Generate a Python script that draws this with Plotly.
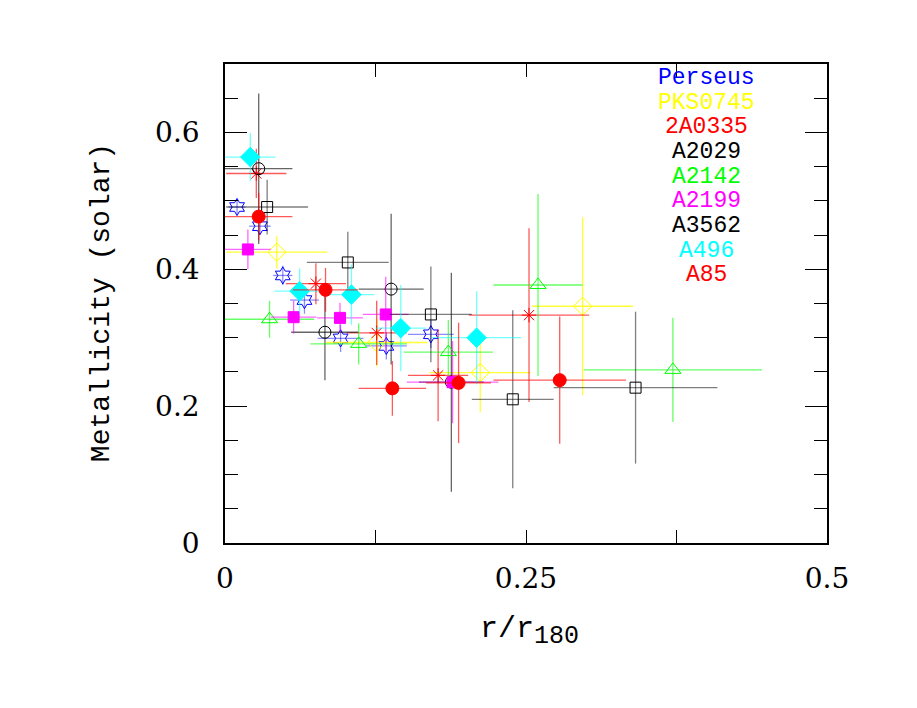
import plotly.graph_objects as go

# ---- data ----
names = ["Perseus", "PKS0745", "2A0335", "A2029", "A2142", "A2199", "A3562", "A496", "A85"]

perseus_x = [0.010, 0.029, 0.048, 0.066, 0.096, 0.134, 0.171]
perseus_y = [0.491, 0.463, 0.391, 0.355, 0.299, 0.288, 0.305]
perseus_xe = [0.007, 0.009, 0.008, 0.012, 0.019, 0.017, 0.019]
perseus_ye = [0.010, 0.012, 0.014, 0.020, 0.020, 0.020, 0.020]

pks_x = [0.043, 0.126, 0.212, 0.297]
pks_y = [0.425, 0.293, 0.249, 0.346]
pks_xe = [0.042, 0.042, 0.042, 0.042]
pks_ye = [0.024, 0.035, 0.058, 0.130]

a0335_x = [0.026, 0.0755, 0.126, 0.177, 0.2525]
a0335_y = [0.540, 0.379, 0.307, 0.245, 0.333]
a0335_xe = [0.025, 0.025, 0.025, 0.025, 0.050]
a0335_ye = [0.036, 0.030, 0.047, 0.067, 0.127]

a2029_x = [0.028, 0.083, 0.138, 0.188]
a2029_y = [0.547, 0.308, 0.371, 0.235]
a2029_xe = [0.028, 0.028, 0.027, 0.027]
a2029_ye = [0.110, 0.070, 0.110, 0.160]

a2142_x = [0.037, 0.111, 0.1855, 0.260, 0.372]
a2142_y = [0.327, 0.291, 0.279, 0.377, 0.253]
a2142_xe = [0.037, 0.040, 0.037, 0.037, 0.074]
a2142_ye = [0.027, 0.030, 0.047, 0.133, 0.076]

a2199_x = [0.019, 0.057, 0.0955, 0.1335, 0.189]
a2199_y = [0.429, 0.330, 0.329, 0.334, 0.235]
a2199_xe = [0.019, 0.019, 0.019, 0.019, 0.038]
a2199_ye = [0.029, 0.024, 0.022, 0.055, 0.060]

a3562_x = [0.035, 0.102, 0.171, 0.239, 0.341]
a3562_y = [0.491, 0.410, 0.334, 0.210, 0.227]
a3562_xe = [0.034, 0.034, 0.034, 0.034, 0.068]
a3562_ye = [0.040, 0.045, 0.070, 0.130, 0.111]

a496_x = [0.021, 0.062, 0.105, 0.146, 0.209]
a496_y = [0.564, 0.368, 0.363, 0.314, 0.300]
a496_xe = [0.021, 0.021, 0.019, 0.021, 0.037]
a496_ye = [0.035, 0.033, 0.044, 0.063, 0.068]

a85_x = [0.028, 0.0835, 0.139, 0.194, 0.278]
a85_y = [0.477, 0.370, 0.226, 0.234, 0.238]
a85_xe = [0.028, 0.027, 0.028, 0.027, 0.055]
a85_ye = [0.035, 0.032, 0.040, 0.088, 0.093]

x_ticks = [0, 0.25, 0.5]
x_ticklabels = ["0", "0.25", "0.5"]
y_ticks = [0, 0.2, 0.4, 0.6]
y_ticklabels = ["0", "0.2", "0.4", "0.6"]

series = [
    (perseus_x, perseus_y, perseus_xe, perseus_ye),
    (pks_x, pks_y, pks_xe, pks_ye),
    (a0335_x, a0335_y, a0335_xe, a0335_ye),
    (a2029_x, a2029_y, a2029_xe, a2029_ye),
    (a2142_x, a2142_y, a2142_xe, a2142_ye),
    (a2199_x, a2199_y, a2199_xe, a2199_ye),
    (a3562_x, a3562_y, a3562_xe, a3562_ye),
    (a496_x, a496_y, a496_xe, a496_ye),
    (a85_x, a85_y, a85_xe, a85_ye),
]

colors = ["#0000ff", "#ffff00", "#ff0000", "#000000", "#00ff00",
          "#ff00ff", "#000000", "#00ffff", "#ff0000"]
err_colors = ["rgba(0,0,255,0.45)", "rgba(255,255,0,0.8)", "rgba(255,0,0,0.65)",
              "rgba(0,0,0,0.6)", "rgba(0,255,0,0.6)", "rgba(255,0,255,0.6)",
              "rgba(0,0,0,0.5)", "rgba(0,255,255,0.55)", "rgba(255,0,0,0.65)"]
symbols = ["hexagram-open", "diamond-open", "asterisk-open", "circle-open",
           "triangle-up-open", "square", "square-open", "diamond", "circle"]
sizes = [13, 14, 12, 12, 14, 11, 11, 15, 13]

fig = go.Figure()
for (xs, ys, xe, ye), nm, c, ec, sym, sz in zip(series, names, colors, err_colors, symbols, sizes):
    fig.add_trace(go.Scatter(
        x=xs, y=ys, mode="markers", name=nm,
        marker=dict(symbol=sym, size=sz, color=c, line=dict(color=c, width=1)),
        error_x=dict(type="data", array=xe, visible=True, color=ec, thickness=1.3, width=0),
        error_y=dict(type="data", array=ye, visible=True, color=ec, thickness=1.3, width=0),
        showlegend=False,
    ))

# legend as coloured text column
for i, (nm, c) in enumerate(zip(names, colors)):
    fig.add_annotation(
        text=nm, x=0.80, y=0.971 - i * 0.0515, xref="paper", yref="paper",
        showarrow=False, xanchor="center", yanchor="middle",
        font=dict(family="Liberation Mono", size=23, color=c),
    )

# axis titles
fig.add_annotation(
    text="Metallicity (solar)", x=-0.205, y=0.502, xref="paper", yref="paper",
    textangle=-90, showarrow=False, xanchor="center", yanchor="middle",
    font=dict(family="Liberation Mono", size=28, color="black"),
)
fig.add_annotation(
    text="r/r<sub><span style='font-size:25px'>180</span></sub>", x=0.505, y=-0.184,
    xref="paper", yref="paper",
    showarrow=False, xanchor="center", yanchor="middle",
    font=dict(family="Liberation Mono", size=30, color="black"),
)

axis_common = dict(
    showgrid=False, zeroline=False, showline=True, linecolor="black", linewidth=1.5,
    mirror="allticks", ticks="inside", tickcolor="black", tickwidth=1.3,
    tickfont=dict(family="DejaVu Serif", size=28, color="black"),
)

fig.update_xaxes(
    range=[0, 0.5], tickvals=x_ticks, ticktext=x_ticklabels, ticklen=13,
    minor=dict(dtick=0.125, ticklen=13, ticks="inside", tickcolor="black", tickwidth=1.3),
    ticklabelstandoff=10, **axis_common,
)
fig.update_yaxes(
    range=[0, 0.7], tickvals=y_ticks, ticktext=y_ticklabels, ticklen=22,
    minor=dict(dtick=0.05, ticklen=13, ticks="inside", tickcolor="black", tickwidth=1.3),
    ticklabelstandoff=18, **axis_common,
)

# page body has an 8px margin, so the figure is sized to sit inside the window
fig.update_layout(
    width=909, height=700,
    margin=dict(l=217, r=90, t=56, b=165),
    plot_bgcolor="white", paper_bgcolor="white",
)

fig.write_html("out.html")
